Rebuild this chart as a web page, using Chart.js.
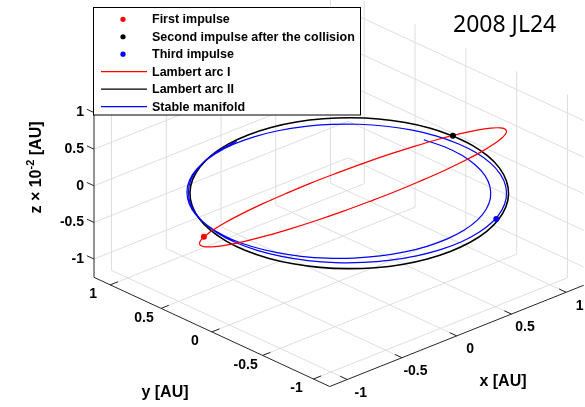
<!DOCTYPE html>
<html>
<head>
<meta charset="utf-8">
<script src="https://cdn.jsdelivr.net/npm/chart.js@4.4.1/dist/chart.umd.min.js"></script>
<style>
  html, body { margin: 0; padding: 0; background: #ffffff; }
  canvas { display: block; }
</style>
</head>
<body>
<canvas id="orbitChart" width="585" height="407"></canvas>
<script>
// ---- Axis limits and ticks (x, y in AU; z in units of 1e-2 AU) ----
const xLimits = [-1.16, 1.16];
const yLimits = [-1.16, 1.16];
const zLimits = [-1.25, 1.25];
const xTicks = [-1, -0.5, 0, 0.5, 1];
const yTicks = [-1, -0.5, 0, 0.5, 1];
const zTicks = [-1, -0.5, 0, 0.5, 1];
const xTickLabels = ['-1', '-0.5', '0', '0.5', '1'];
const yTickLabels = ['-1', '-0.5', '0', '0.5', '1'];
const zTickLabels = ['-1', '-0.5', '0', '0.5', '1'];

// ---- Lambert arc I (closed transfer orbit, starts at the first impulse) ----
const arc1X = [-0.813,-0.727,-0.618,-0.488,-0.341,-0.182,-0.016,0.152,0.317,0.475,0.620,0.747,0.854,0.936,0.992,1.019,1.017,0.986,0.927,0.841,0.732,0.601,0.455,0.296,0.130,-0.038,-0.204,-0.361,-0.506,-0.633,-0.740,-0.823,-0.878,-0.906,-0.904,-0.873,-0.813];
const arc1Y = [0.452,0.459,0.451,0.426,0.386,0.331,0.265,0.187,0.102,0.011,-0.082,-0.175,-0.266,-0.351,-0.427,-0.493,-0.546,-0.585,-0.609,-0.616,-0.608,-0.583,-0.543,-0.488,-0.422,-0.344,-0.259,-0.168,-0.075,0.018,0.109,0.194,0.270,0.336,0.389,0.428,0.452];
const arc1Z = [-0.449,-0.416,-0.369,-0.309,-0.238,-0.159,-0.073,0.016,0.107,0.196,0.280,0.358,0.426,0.483,0.526,0.555,0.569,0.567,0.549,0.516,0.469,0.409,0.338,0.259,0.173,0.084,-0.007,-0.096,-0.180,-0.258,-0.326,-0.383,-0.426,-0.455,-0.469,-0.467,-0.449];

// ---- Lambert arc II (closed orbit, starts at the second impulse) ----
const arc2X = [1.025,1.038,1.020,0.972,0.894,0.790,0.662,0.514,0.352,0.179,0.001,-0.177,-0.349,-0.509,-0.654,-0.779,-0.879,-0.952,-0.996,-1.009,-0.991,-0.943,-0.865,-0.761,-0.633,-0.485,-0.323,-0.150,0.028,0.206,0.378,0.538,0.683,0.808,0.908,0.981,1.025];
const arc2Y = [-0.018,-0.195,-0.369,-0.534,-0.686,-0.819,-0.930,-1.016,-1.073,-1.100,-1.096,-1.062,-0.999,-0.907,-0.790,-0.652,-0.497,-0.330,-0.155,0.022,0.196,0.361,0.513,0.646,0.757,0.843,0.900,0.928,0.924,0.890,0.826,0.734,0.618,0.480,0.325,0.157,-0.018];
const arc2Z = [0.137,0.114,0.088,0.060,0.029,-0.002,-0.033,-0.063,-0.092,-0.117,-0.139,-0.157,-0.170,-0.178,-0.180,-0.177,-0.168,-0.155,-0.137,-0.114,-0.088,-0.060,-0.029,0.002,0.033,0.063,0.092,0.117,0.139,0.157,0.170,0.178,0.180,0.177,0.168,0.155,0.137];

// ---- Stable manifold (just under two revolutions) ----
const manifoldX = [0.834,0.875,0.889,0.874,0.832,0.763,0.669,0.554,0.421,0.273,0.116,-0.046,-0.208,-0.364,-0.511,-0.643,-0.756,-0.847,-0.913,-0.952,-0.962,-0.942,-0.895,-0.820,-0.720,-0.598,-0.457,-0.303,-0.138,0.031,0.200,0.363,0.516,0.653,0.771,0.866,0.935,0.975,0.987,0.968,0.920,0.844,0.742,0.618,0.475,0.317,0.150,-0.022,-0.193,-0.358,-0.512,-0.650,-0.768,-0.862,-0.929,-0.967,-0.975,-0.952,-0.898,-0.817,-0.709,-0.578,-0.427,-0.262,-0.087];
const manifoldY = [0.062,-0.096,-0.253,-0.402,-0.542,-0.665,-0.771,-0.853,-0.912,-0.944,-0.948,-0.925,-0.874,-0.798,-0.699,-0.579,-0.442,-0.293,-0.136,0.025,0.185,0.338,0.480,0.606,0.714,0.798,0.857,0.889,0.893,0.868,0.815,0.736,0.632,0.508,0.365,0.210,0.045,-0.123,-0.289,-0.450,-0.599,-0.733,-0.847,-0.937,-1.002,-1.038,-1.046,-1.024,-0.973,-0.894,-0.791,-0.666,-0.522,-0.364,-0.198,-0.027,0.143,0.307,0.459,0.595,0.711,0.803,0.869,0.906,0.912];
const manifoldZ = [0.147,0.127,0.103,0.076,0.047,0.016,-0.016,-0.047,-0.076,-0.103,-0.127,-0.147,-0.163,-0.174,-0.179,-0.179,-0.174,-0.163,-0.147,-0.127,-0.103,-0.076,-0.047,-0.016,0.016,0.047,0.076,0.103,0.127,0.147,0.163,0.174,0.179,0.179,0.174,0.163,0.147,0.127,0.103,0.076,0.047,0.016,-0.016,-0.047,-0.076,-0.103,-0.127,-0.147,-0.163,-0.174,-0.179,-0.179,-0.174,-0.163,-0.147,-0.127,-0.103,-0.076,-0.047,-0.016,0.016,0.047,0.076,0.103,0.127];

// ---- Impulse locations: first, second (after the collision), third ----
const impulseX = [-0.813, 1.025, 0.514];
const impulseY = [0.452, -0.018, -0.996];
const impulseZ = [-0.449, 0.137, -0.065];

const seriesLabels = ['First impulse', 'Second impulse after the collision', 'Third impulse',
                      'Lambert arc I', 'Lambert arc II', 'Stable manifold'];
const seriesColors = ['#ff0000', '#000000', '#0000ff', '#ff0000', '#000000', '#0000ff'];
const titleText = '2008 JL24';

// ---- Orthographic 3-D view: screen offset of one unit along each axis ----
const view = { ox: 339.5, oy: 189.5, ex: [111, -44.5], ey: [-103, -48], ez: [0, -74.7] };
function project(x, y, z) {
  return {
    x: view.ox + x * view.ex[0] + y * view.ey[0] + z * view.ez[0],
    y: view.oy + x * view.ex[1] + y * view.ey[1] + z * view.ez[1]
  };
}
function curve(xs, ys, zs) { return xs.map((v, i) => project(v, ys[i], zs[i])); }

const FONT = '"Liberation Sans", Arial, Helvetica, sans-serif';

const box3d = {
  id: 'box3d',
  beforeDatasetsDraw(chart) {
    const ctx = chart.ctx;
    const sx = chart.scales.x, sy = chart.scales.y;
    const px = (x, y, z) => { const p = project(x, y, z); return [sx.getPixelForValue(p.x), sy.getPixelForValue(p.y)]; };
    const seg = (a, b) => { ctx.beginPath(); ctx.moveTo(a[0], a[1]); ctx.lineTo(b[0], b[1]); ctx.stroke(); };
    const [x0, x1] = xLimits, [y0, y1] = yLimits, [z0, z1] = zLimits;
    ctx.save();
    // grid on the floor and the two back walls
    ctx.strokeStyle = '#dedede';
    ctx.lineWidth = 1;
    xTicks.forEach(v => { seg(px(v, y0, z0), px(v, y1, z0)); seg(px(v, y1, z0), px(v, y1, z1)); });
    yTicks.forEach(v => { seg(px(x0, v, z0), px(x1, v, z0)); seg(px(x1, v, z0), px(x1, v, z1)); });
    zTicks.forEach(v => { seg(px(x0, y1, v), px(x1, y1, v)); seg(px(x1, y1, v), px(x1, y0, v)); });
    // axis lines
    ctx.strokeStyle = '#262626';
    seg(px(x0, y0, z0), px(x1, y0, z0));
    seg(px(x0, y0, z0), px(x0, y1, z0));
    seg(px(x0, y1, z0), px(x0, y1, z1));
    // tick marks
    const t = 0.07;
    xTicks.forEach(v => seg(px(v, y0, z0), px(v, y0 + t, z0)));
    yTicks.forEach(v => seg(px(x0, v, z0), px(x0 + t, v, z0)));
    zTicks.forEach(v => seg(px(x0, y1, v), px(x0, y1 + t, v)));
    // tick labels
    ctx.fillStyle = '#000000';
    ctx.font = 'bold 14px ' + FONT;
    ctx.textBaseline = 'middle';
    ctx.textAlign = 'center';
    xTicks.forEach((v, i) => { const p = px(v, y0, z0); ctx.fillText(xTickLabels[i], p[0] + 13.5, p[1] + 13.5); });
    yTicks.forEach((v, i) => { const p = px(x0, v, z0); ctx.fillText(yTickLabels[i], p[0] - 17, p[1] + 9.5); });
    ctx.textAlign = 'right';
    zTicks.forEach((v, i) => { const p = px(x0, y1, v); ctx.fillText(zTickLabels[i], p[0] - 10, p[1]); });
    // axis titles
    ctx.font = 'bold 16px ' + FONT;
    ctx.textAlign = 'center';
    ctx.fillText('x [AU]', 503, 382);
    ctx.fillText('y [AU]', 165, 393);
    ctx.save();
    ctx.translate(37, 167.5);
    ctx.rotate(-Math.PI / 2);
    const partA = 'z \u00d7 10', partB = '-2', partC = ' [AU]';
    ctx.font = 'bold 16px ' + FONT;
    const wA = ctx.measureText(partA).width, wC = ctx.measureText(partC).width;
    ctx.font = 'bold 11px ' + FONT;
    const wB = ctx.measureText(partB).width;
    let cx = -(wA + wB + wC) / 2;
    ctx.textAlign = 'left';
    ctx.font = 'bold 16px ' + FONT;
    ctx.fillText(partA, cx, 0); cx += wA;
    ctx.font = 'bold 11px ' + FONT;
    ctx.fillText(partB, cx, -6); cx += wB;
    ctx.font = 'bold 16px ' + FONT;
    ctx.fillText(partC, cx, 0);
    ctx.restore();
    ctx.restore();
  },
  afterDraw(chart) {
    const ctx = chart.ctx;
    ctx.save();
    // legend box
    ctx.font = 'bold 12.5px ' + FONT;
    const textX = 152, left = 93.5, top = 7.5;
    const maxW = Math.max(...seriesLabels.map(s => ctx.measureText(s).width));
    const width = Math.max(267, textX - left + maxW + 5);
    const height = 107.5;
    ctx.fillStyle = '#ffffff';
    ctx.fillRect(left, top, width, height);
    ctx.strokeStyle = '#000000';
    ctx.lineWidth = 1;
    ctx.strokeRect(left, top, width, height);
    ctx.textAlign = 'left';
    ctx.textBaseline = 'middle';
    seriesLabels.forEach((label, i) => {
      const yRow = 19.3 + i * 17.45;
      ctx.fillStyle = seriesColors[i];
      ctx.strokeStyle = seriesColors[i];
      if (i < 3) {
        ctx.beginPath(); ctx.arc(123, yRow, 2.6, 0, Math.PI * 2); ctx.fill();
      } else {
        ctx.lineWidth = i === 4 ? 1.4 : 1.2;
        ctx.beginPath(); ctx.moveTo(101, yRow); ctx.lineTo(147, yRow); ctx.stroke();
      }
      ctx.fillStyle = '#000000';
      ctx.fillText(label, textX, yRow + 0.5);
    });
    // title
    ctx.font = '23px "Noto Sans", "Open Sans", sans-serif';
    ctx.textBaseline = 'alphabetic';
    ctx.fillStyle = '#000000';
    ctx.fillText(titleText, 453, 31.5);
    ctx.restore();
  }
};

const lineStyle = { showLine: true, pointRadius: 0, tension: 0.4, fill: false, clip: false };
const dotStyle = { showLine: false, pointRadius: 3, pointBorderWidth: 0, clip: false };

new Chart(document.getElementById('orbitChart'), {
  type: 'scatter',
  data: {
    datasets: [
      Object.assign({ label: seriesLabels[0], data: [project(impulseX[0], impulseY[0], impulseZ[0])],
        pointBackgroundColor: seriesColors[0], order: 0 }, dotStyle),
      Object.assign({ label: seriesLabels[1], data: [project(impulseX[1], impulseY[1], impulseZ[1])],
        pointBackgroundColor: seriesColors[1], order: 0 }, dotStyle),
      Object.assign({ label: seriesLabels[2], data: [project(impulseX[2], impulseY[2], impulseZ[2])],
        pointBackgroundColor: seriesColors[2], order: 0 }, dotStyle),
      Object.assign({ label: seriesLabels[3], data: curve(arc1X, arc1Y, arc1Z),
        borderColor: seriesColors[3], borderWidth: 1.2, order: 1 }, lineStyle),
      Object.assign({ label: seriesLabels[4], data: curve(arc2X, arc2Y, arc2Z),
        borderColor: seriesColors[4], borderWidth: 1.6, order: 3 }, lineStyle),
      Object.assign({ label: seriesLabels[5], data: curve(manifoldX, manifoldY, manifoldZ),
        borderColor: seriesColors[5], borderWidth: 1.2, order: 2 }, lineStyle)
    ]
  },
  options: {
    responsive: false,
    animation: false,
    devicePixelRatio: 1,
    events: [],
    layout: { padding: 0 },
    scales: {
      x: { type: 'linear', min: 0, max: 585, display: false },
      y: { type: 'linear', min: 0, max: 407, reverse: true, display: false }
    },
    plugins: { legend: { display: false }, tooltip: { enabled: false }, title: { display: false } }
  },
  plugins: [box3d]
});
</script>
</body>
</html>
